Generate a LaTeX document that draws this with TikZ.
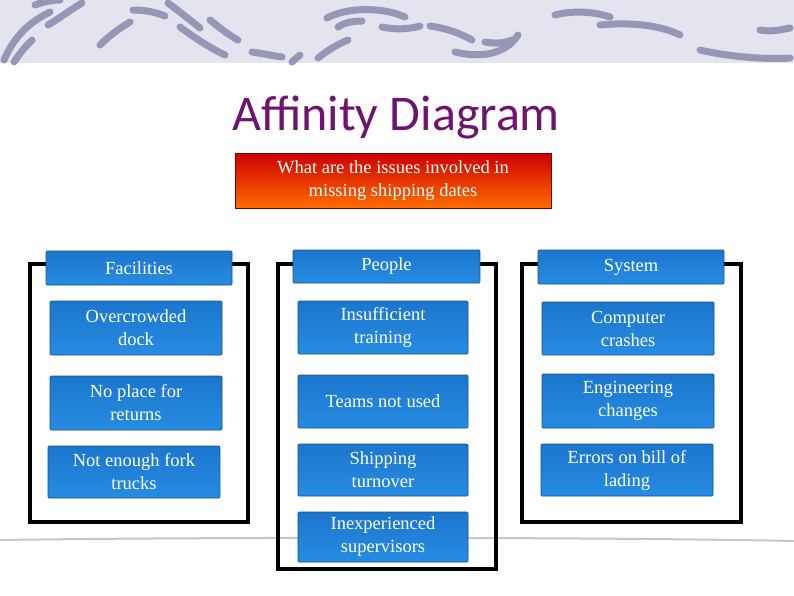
\documentclass[tikz,border=0pt]{standalone}
\usepackage{fontspec}
\setmainfont{Liberation Serif}
\newfontfamily\titlefont{Carlito}
\definecolor{boxtop}{RGB}{28,118,205}
\definecolor{boxbot}{RGB}{38,140,225}
\definecolor{swc}{RGB}{150,150,182}
\definecolor{bandc}{RGB}{228,228,238}
\begin{document}
\begin{tikzpicture}[x=1pt,y=-1pt,
  item/.style={draw=boxtop!70!black,line width=0.6pt,top color=boxtop,bottom color=boxbot,text=white,align=center,font=\fontsize{18.5}{23}\selectfont,inner sep=0pt,rounded corners=1pt},
  frame/.style={line width=4pt,draw=black},
  swoosh/.style={line width=7pt,line cap=round,draw=swc}]
\useasboundingbox (0,0) rectangle (794,595);
\fill[white] (0,0) rectangle (794,595);
\fill[bandc] (0,0) rectangle (794,63);
% decorative swooshes
\draw[swoosh] (4,60) .. controls (15,35) and (30,22) .. (50,12);
\draw[swoosh] (14,62) .. controls (25,45) and (35,38) .. (32,40);
\draw[swoosh] (48,25) .. controls (60,18) and (70,10) .. (82,3);
\draw[swoosh] (35,5) .. controls (45,1) and (55,0) .. (60,0);
\draw[swoosh] (133,10) .. controls (145,10) and (155,12) .. (165,16);
\draw[swoosh] (168,3) .. controls (180,12) and (190,20) .. (200,28);
\draw[swoosh] (180,27) .. controls (195,38) and (210,48) .. (225,55);
\draw[swoosh] (210,20) .. controls (220,28) and (230,36) .. (238,40);
\draw[swoosh] (252,52) .. controls (265,54) and (275,56) .. (282,57);
\draw[swoosh] (292,62) .. controls (295,59) and (298,57) .. (300,55);
\draw[swoosh] (318,58) .. controls (328,50) and (338,44) .. (348,40);
\draw[swoosh] (327,18) .. controls (345,8) and (380,6) .. (405,17);
\draw[swoosh] (338,27) .. controls (345,22) and (355,21) .. (362,21);
\draw[swoosh] (382,27) .. controls (395,30) and (410,29) .. (420,26);
\draw[swoosh] (430,26) .. controls (445,28) and (460,33) .. (472,40);
\draw[swoosh] (455,52) .. controls (480,58) and (505,55) .. (518,35);
\draw[swoosh] (485,42) .. controls (495,44) and (505,43) .. (512,40);
\draw[swoosh] (100,45) .. controls (110,35) and (120,28) .. (130,22);
\draw[swoosh] (760,30) .. controls (770,32) and (780,30) .. (790,28);
\draw[swoosh] (700,50) .. controls (720,55) and (760,60) .. (790,58);
\draw[swoosh] (600,25) .. controls (630,22) and (660,25) .. (680,35);
\draw[swoosh] (555,15) .. controls (575,10) and (595,12) .. (610,17);
% bottom line
\draw[line width=2pt,gray!45] (0,540) .. controls (200,537) and (600,537) .. (794,541);
% title
\node (title) at (396,118) {\titlefont\fontsize{50}{54}\selectfont\color[RGB]{110,20,110}Affinity Diagram};
\node[draw=red!50!black,line width=0.6pt,top color=red!80!black,bottom color=orange!85!red,text=white,align=center,minimum width=316pt,minimum height=55pt,font=\fontsize{18.5}{23}\selectfont,inner sep=0pt] (q) at (393,180.5) {What are the issues involved in\\missing shipping dates};
% frames
\draw[frame] (46,264) -- (30,264) -- (30,522) -- (248,522) -- (248,264) -- (232,264);
\draw[frame] (293,264) -- (278,264) -- (278,569) -- (496,569) -- (496,264) -- (480,264);
\draw[frame] (538,264) -- (522,264) -- (522,522) -- (741,522) -- (741,264) -- (724,264);
% headers
\node[item,minimum width=186pt,minimum height=34pt] (h1) at (139,268) {Facilities};
\node[item,minimum width=187pt,minimum height=33pt] (h2) at (386.5,266.5) {People};
\node[item,minimum width=186pt,minimum height=34pt] (h3) at (631,267) {System};
% items
\node[item,minimum width=172pt,minimum height=54pt] (a1) at (136,328) {Overcrowded\\dock};
\node[item,minimum width=172pt,minimum height=54pt] (a2) at (136,403) {No place for\\returns};
\node[item,minimum width=172pt,minimum height=52pt] (a3) at (134,472) {Not enough fork\\trucks};
\node[item,minimum width=170pt,minimum height=53pt] (b1) at (383,327.5) {Insufficient\\training};
\node[item,minimum width=170pt,minimum height=53pt] (b2) at (383,401.5) {Teams not used};
\node[item,minimum width=170pt,minimum height=52pt] (b3) at (383,470) {Shipping\\turnover};
\node[item,minimum width=170pt,minimum height=50pt] (b4) at (383,537) {Inexperienced\\supervisors};
\node[item,minimum width=172pt,minimum height=53pt] (c1) at (628,328.5) {Computer\\crashes};
\node[item,minimum width=172pt,minimum height=54pt] (c2) at (628,401) {Engineering\\changes};
\node[item,minimum width=172pt,minimum height=52pt] (c3) at (627,470) {Errors on bill of\\lading};
\end{tikzpicture}
\end{document}
